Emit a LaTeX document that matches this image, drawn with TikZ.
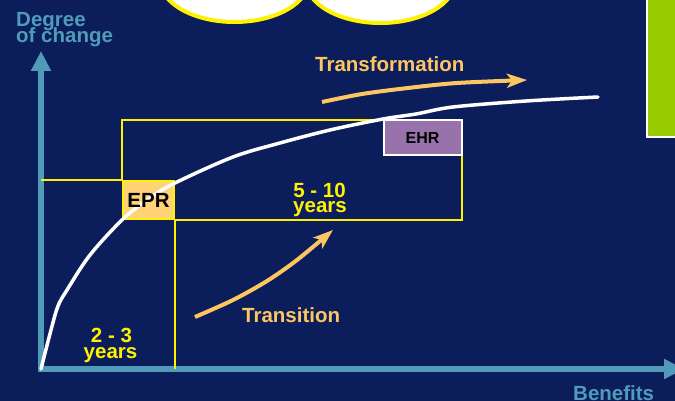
\documentclass[tikz,border=0pt]{standalone}
\usepackage{fontspec}
\setmainfont{Liberation Sans}
\usetikzlibrary{arrows.meta}
\definecolor{navy}{RGB}{11,30,91}
\definecolor{axisblue}{RGB}{80,155,185}
\definecolor{trendorange}{RGB}{253,198,96}
\definecolor{eprorange}{RGB}{255,210,120}
\definecolor{ehrpurple}{RGB}{152,114,170}
\definecolor{panelgreen}{RGB}{153,204,0}
\tikzset{
x=1pt, y=-1pt, % one unit is one pixel of the slide, y grows downward
axistip/.tip={Triangle[length=20pt, width=19pt]}, % arrow head of the axes
axis/.style={line width=6pt, draw=axisblue, line join=miter, axistip-axistip}, % the two axes
bubble/.style={draw=yellow, fill=white, line width=4pt}, % the cut off ellipses on top
panel/.style={draw=white, fill=panelgreen, line width=2pt}, % green box at the right
frame/.style={draw=yellow, line width=2.4pt}, % yellow time boxes
growth/.style={draw=white, line width=3.5pt, line cap=round}, % the white curve
trend/.style={draw=trendorange, line width=4pt, -{Stealth[length=20pt, width=14pt, inset=5pt]}}, % orange arrows
label/.style={inner sep=0pt, font=\fontsize{20.5}{20.5}\selectfont\bfseries}, % all the texts
}

\begin{document}
\begin{tikzpicture}
        \useasboundingbox[fill=navy] (0,0) rectangle (675,401);

        % cut off ellipses and green panel
        \draw[bubble] (234.5,-21) ellipse [x radius=75pt, y radius=43pt];
        \draw[bubble] (380.5,-20) ellipse [x radius=75pt, y radius=43pt];
        \draw[panel] (647,-5) rectangle (685,137);

        % axes
        \coordinate (origin) at (41,369);
        \coordinate (ytip) at (41,51);
        \coordinate (xtip) at (684,369);
        \draw[axis] (ytip) -- (origin) -- (xtip);

        % time boxes
        \node[frame, fill=eprorange, minimum width=51pt, minimum height=38pt] (epr) at (148.5,200) {};
        \coordinate (bigne) at (462,120);
        \draw[frame] (origin |- epr.north) -- (epr.north west);
        \draw[frame] (epr.north west) -- (epr.north west |- bigne) -- (bigne)
                -- (bigne |- epr.south) -- (epr.south east);
        \draw[frame] (epr.south east) -- (epr.south east |- origin);

        % degree of change curve
        \draw[growth] plot[smooth, tension=0.55] coordinates {(41,369) (51,330) (58,306) (67,290) (90,255)
                (123,219) (150,198) (175,183) (233,157) (280,143) (330,130) (383,119) (416,114)
                (453,107) (526,101) (598,97)};

        \node[label] at (epr) {EPR};
        \node[frame, draw=white, line width=2pt, fill=ehrpurple, minimum width=78pt, minimum height=35pt,
                font=\fontsize{16}{16}\selectfont\bfseries] (ehr) at (422.5,138) {EHR};

        % orange trends
        \draw[trend] plot[smooth] coordinates {(322,102) (362,94) (408,88) (457,83) (527,80)};
        \draw[trend] plot[smooth] coordinates {(195,317) (233,300) (267,281) (297,260) (333,230)};

        % texts
        \node[label, text=axisblue, anchor=base west] (degree) at (16,27) {Degree};
        \node[label, text=axisblue, anchor=base west] (change) at (16,43) {of change};
        \node[label, text=axisblue, anchor=base west] (benefits) at (573,400) {Benefits};
        \node[label, text=trendorange, anchor=base west] (transformation) at (315,72) {Transformation};
        \node[label, text=trendorange, anchor=base west] (transition) at (242,322) {Transition};
        \node[label, text=yellow, anchor=base] (long) at (319.5,197) {5 - 10};
        \node[label, text=yellow, anchor=base] (longyears) at (320,212) {years};
        \node[label, text=yellow, anchor=base] (short) at (111.5,342) {2 - 3};
        \node[label, text=yellow, anchor=base] (shortyears) at (110.5,358) {years};
    \end{tikzpicture}
\end{document}
